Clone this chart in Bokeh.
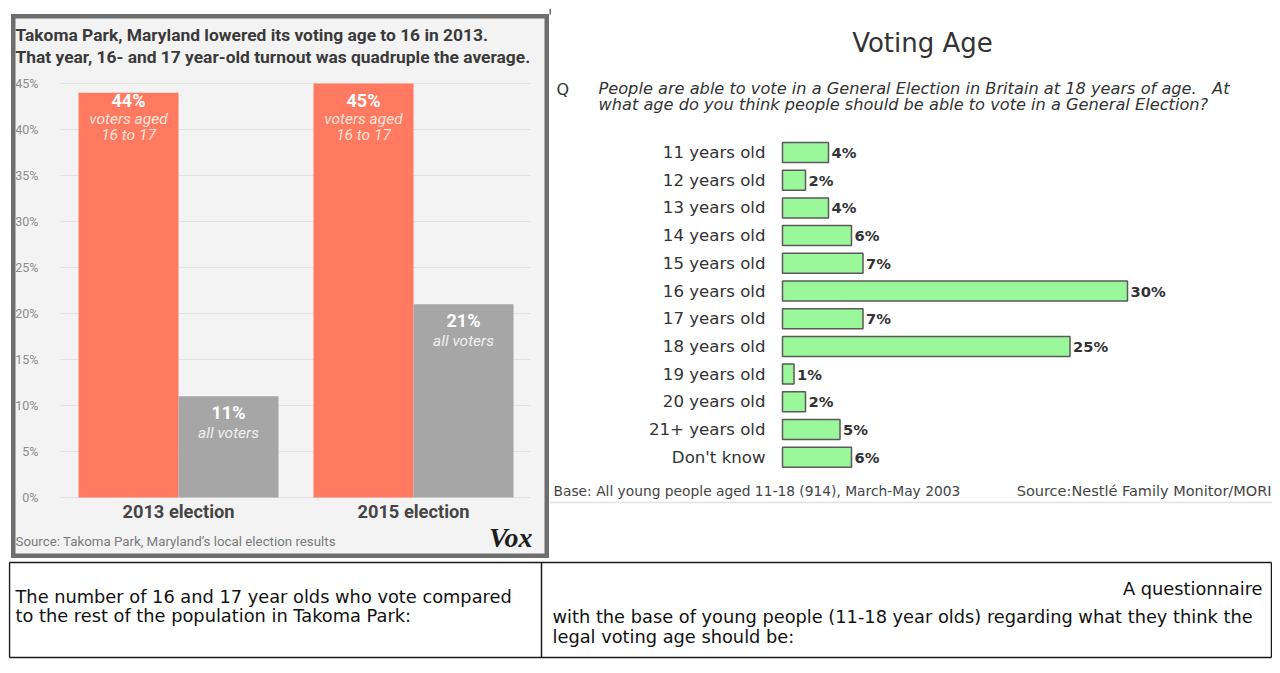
from bokeh.plotting import figure
from bokeh.models import Range1d
from bokeh.layouts import column, row
from bokeh.core.properties import value
from bokeh.embed import file_html
from bokeh.resources import INLINE

# ---------------- data ----------------
elections = ["2013 election", "2015 election"]
youth_turnout = [44, 45]          # % turnout, voters aged 16 to 17
all_turnout = [11, 21]            # % turnout, all voters
y_ticks = [0, 5, 10, 15, 20, 25, 30, 35, 40, 45]
y_tick_labels = ["0%", "5%", "10%", "15%", "20%", "25%", "30%", "35%", "40%", "45%"]

age_options = ["11 years old", "12 years old", "13 years old", "14 years old",
               "15 years old", "16 years old", "17 years old", "18 years old",
               "19 years old", "20 years old", "21+ years old", "Don't know"]
age_share = [4, 2, 4, 6, 7, 30, 7, 25, 1, 2, 5, 6]   # % of young people

# ---------------- left panel (Vox chart) ----------------
LX, LY, LW, LH = 11, 14, 538, 544        # page position / size of the panel
GROUP_PX, BAR_PX, PCT_PX = 235.0, 100.0, 9.2
lx0 = 1 - (178 - LX) / GROUP_PX
ly1 = (497 - LY) / PCT_PX


def lx(px):
    return lx0 + (px - LX) / GROUP_PX


def ly(py):
    return ly1 - (py - LY) / PCT_PX


left = figure(width=LW, height=LH, output_backend="svg", toolbar_location=None,
              tools="", min_border=0, x_axis_location=None, y_axis_location=None,
              x_range=Range1d(lx0, lx0 + LW / GROUP_PX),
              y_range=Range1d(ly1 - LH / PCT_PX, ly1))
left.margin = (6, 0, 0, 3)
left.grid.visible = False
left.background_fill_color = "#f3f3f3"
left.border_fill_color = "#f3f3f3"
left.outline_line_color = "#6e6e6e"
left.outline_line_width = 8

FONT_L = value("Roboto")
grp = [i + 1 for i in range(len(elections))]
bw = BAR_PX / GROUP_PX

# gridlines
left.segment(x0=[lx(60)] * len(y_ticks), x1=[lx(530)] * len(y_ticks),
             y0=y_ticks, y1=y_ticks, line_color="#e2e2e2", line_width=1)
left.text(x=[lx(38)] * len(y_ticks), y=y_ticks, text=y_tick_labels,
          text_align="right", text_baseline="middle", text_font=FONT_L,
          text_font_size="12.5px", text_color="#8c8c8c")

# bars
rx_pos = [g - bw / 2 for g in grp]
gx_pos = [g + bw / 2 for g in grp]
left.vbar(x=rx_pos, top=youth_turnout, width=bw, bottom=0,
          fill_color="#ff7a60", line_color=None)
left.vbar(x=gx_pos, top=all_turnout, width=bw, bottom=0,
          fill_color="#a6a6a6", line_color=None)

# in-bar labels (youth labels sit at a common height near the top)
youth_lbl_y = [ly(100)] * 2
left.text(x=rx_pos, y=youth_lbl_y, text=[f"{v}%" for v in youth_turnout],
          text_align="center", text_baseline="middle",
          text_font=FONT_L, text_font_style="bold", text_font_size="18px",
          text_color="white")
left.text(x=rx_pos, y=youth_lbl_y, text=["voters aged"] * 2, y_offset=18,
          text_align="center", text_baseline="middle", text_font=FONT_L,
          text_font_style="italic", text_font_size="15.5px", text_color="#ffe2da")
left.text(x=rx_pos, y=youth_lbl_y, text=["16 to 17"] * 2, y_offset=34,
          text_align="center", text_baseline="middle", text_font=FONT_L,
          text_font_style="italic", text_font_size="15.5px", text_color="#ffe2da")
left.text(x=gx_pos, y=all_turnout, text=[f"{v}%" for v in all_turnout],
          y_offset=16, text_align="center", text_baseline="middle",
          text_font=FONT_L, text_font_style="bold", text_font_size="18px",
          text_color="white")
left.text(x=gx_pos, y=all_turnout, text=["all voters"] * 2, y_offset=37,
          text_align="center", text_baseline="middle", text_font=FONT_L,
          text_font_style="italic", text_font_size="15.5px", text_color="#f0f0f0")

# category labels
left.text(x=grp, y=[ly(511)] * 2, text=elections, text_align="center",
          text_baseline="middle", text_font=FONT_L, text_font_style="bold",
          text_font_size="18.3px", text_color="#454545")

# title / source / logo
left.text(x=[lx(15)] * 2, y=[ly(34), ly(56)],
          text=["Takoma Park, Maryland lowered its voting age to 16 in 2013.",
                "That year, 16- and 17 year-old turnout was quadruple the average."],
          text_align="left", text_baseline="middle", text_font=FONT_L,
          text_font_style="bold", text_font_size="17.4px", text_color="#3a3a3a")
left.text(x=[lx(15)], y=[ly(541)],
          text=["Source: Takoma Park, Maryland\u2019s local election results"],
          text_align="left", text_baseline="middle", text_font=FONT_L,
          text_font_size="13.3px", text_color="#7a7a7a")
left.text(x=[lx(532)], y=[ly(537)], text=["Vox"], text_align="right",
          text_baseline="middle", text_font=value("Liberation Serif"),
          text_font_style="bold italic", text_font_size="28px", text_color="#1e1e1e")

# ---------------- right panel (MORI chart) ----------------
RX, RY, RW, RH = 549, 8, 723, 550
ROW_PX, PCT2_PX = 27.7, 11.5
rx0 = -(782 - RX) / PCT2_PX
ry_top = -(152 - RY) / ROW_PX


def rx(px):
    return rx0 + (px - RX) / PCT2_PX


def ry(py):
    return ry_top + (py - RY) / ROW_PX


right = figure(width=RW, height=RH, output_backend="svg", toolbar_location=None,
               tools="", min_border=0, x_axis_location=None, y_axis_location=None,
               x_range=Range1d(rx0, rx0 + RW / PCT2_PX),
               y_range=Range1d(ry_top + RH / ROW_PX, ry_top))
right.grid.visible = False
right.outline_line_color = None
right.background_fill_color = "white"

FONT_R = value("DejaVu Sans")
idx = list(range(len(age_options)))

right.hbar(y=idx, left=0, right=age_share, height=20 / ROW_PX,
           fill_color="#9af79a", line_color="#5a5a5a", line_width=1.5)
right.text(x=[rx(765)] * len(idx), y=idx, text=age_options, text_align="right",
           text_baseline="middle", text_font=FONT_R, text_font_size="16.6px",
           text_color="#333333")
right.text(x=age_share, y=idx, text=[f"{v}%" for v in age_share], x_offset=3,
           text_align="left", text_baseline="middle", text_font=FONT_R,
           text_font_style="bold", text_font_size="14.7px", text_color="#333333")

right.text(x=[rx(922)], y=[ry(42)], text=["Voting Age"], text_align="center",
           text_baseline="middle", text_font=FONT_R, text_font_size="26px",
           text_color="#333333")
right.text(x=[rx(556)], y=[ry(89)], text=["Q"], text_align="left",
           text_baseline="middle", text_font=FONT_R, text_font_size="16px",
           text_color="#333333")
right.text(x=[rx(598)] * 2, y=[ry(88), ry(104)],
           text=["People are able to vote in a General Election in Britain at 18 years of age.\u00a0\u00a0\u00a0At",
                 "what age do you think people should be able to vote in a General Election?"],
           text_align="left", text_baseline="middle", text_font=FONT_R,
           text_font_style="italic", text_font_size="16.2px", text_color="#333333")
right.text(x=[rx(553)], y=[ry(490)],
           text=["Base:  All young people aged 11-18 (914), March-May 2003"],
           text_align="left", text_baseline="middle", text_font=FONT_R,
           text_font_size="13.8px", text_color="#444444")
right.text(x=[rx(1271)], y=[ry(490)], text=["Source:Nestl\u00e9 Family Monitor/MORI"],
           text_align="right", text_baseline="middle", text_font=FONT_R,
           text_font_size="14.5px", text_color="#444444")
right.segment(x0=[rx(549)], x1=[rx(1272)], y0=[ry(502)], y1=[ry(502)],
              line_color="#e2e2e2", line_width=1.5)
right.segment(x0=[rx(549.5)], x1=[rx(549.5)], y0=[ry(8)], y1=[ry(14)],
              line_color="#6e6e6e", line_width=2)

# ---------------- bottom table ----------------
BX, BY, BW, BH = 8, 558, 1264, 107
bottom = figure(width=BW, height=BH, output_backend="svg", toolbar_location=None,
                tools="", min_border=0, x_axis_location=None, y_axis_location=None,
                x_range=Range1d(BX, BX + BW), y_range=Range1d(BY + BH, BY))
bottom.grid.visible = False
bottom.outline_line_color = None
bottom.background_fill_color = "white"
bottom.segment(x0=[9, 9, 9, 1271, 541], x1=[1271, 1271, 9, 1271, 541],
               y0=[562, 657, 562, 562, 562], y1=[562, 657, 657, 657, 657],
               line_color="#1a1a1a", line_width=1.5)
FONT_T = value("DejaVu Sans")
bottom.text(x=[15, 15], y=[596, 615],
            text=["The number of 16 and 17 year olds who vote compared",
                  "to the rest of the population in Takoma Park:"],
            text_align="left", text_baseline="middle", text_font=FONT_T,
            text_font_size="17.8px", text_color="#111111")
bottom.text(x=[1262], y=[588], text=["A questionnaire"], text_align="right",
            text_baseline="middle", text_font=FONT_T, text_font_size="17.8px",
            text_color="#111111")
bottom.text(x=[552, 552], y=[616, 636],
            text=["with the base of young people (11-18 year olds) regarding what they think the",
                  "legal voting age should be:"],
            text_align="left", text_baseline="middle", text_font=FONT_T,
            text_font_size="17.8px", text_color="#111111")

layout = column(row(left, right), bottom)
layout.margin = (8, 0, 0, 8)
open("out.html", "w").write(file_html(layout, INLINE))
